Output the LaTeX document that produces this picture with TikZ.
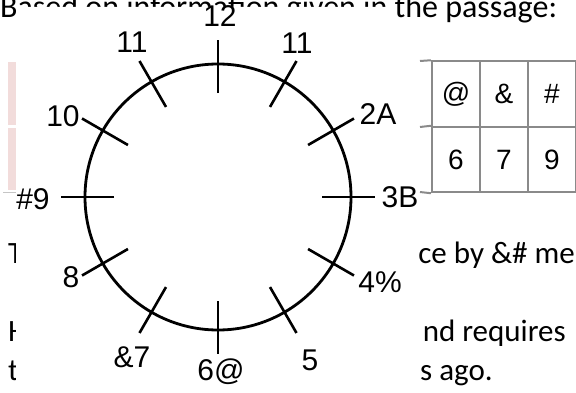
\documentclass[tikz,border=0pt]{standalone}
\usepackage{fontspec}
\setmainfont{Carlito}
\newfontfamily\clockfont{Liberation Sans}
\usetikzlibrary{calc}
\definecolor{cellgray}{RGB}{138,138,138}
\definecolor{rowpink}{RGB}{242,220,219}
\tikzset{
  hour/.style={font=\clockfont\fontsize{30}{32}\selectfont, inner sep=0pt},
  cell/.style={draw=cellgray, line width=2pt, minimum width=48pt,
    minimum height=65.5pt, inner sep=0pt, font=\clockfont\fontsize{28}{30}\selectfont},
  passage/.style={font=\fontsize{31}{36}\selectfont, inner sep=0pt}
}

\begin{document}
\begin{tikzpicture}[x=1pt,y=1pt]
\useasboundingbox (0,0) rectangle (576,392);
% page text under the clock
\node[passage, font=\fontsize{32}{36}\selectfont, anchor=base west] (head) at (0,374)
    {Based on information given in the passage:};
\begin{scope}[every node/.style={passage, anchor=base west}]
    \node (lineT) at (8,129) {T};
    \node (lineH) at (8,51) {H};
    \node (linet) at (8,12) {t};
    \node (ago) at (420,12) {s ago.};
\end{scope}
\node[passage, anchor=base east] (amp) at (575,129) {ce by \&\# me};
\node[passage, anchor=base east] (req) at (566,51) {nd requires};
\fill[rowpink] (8,330) rectangle (16,267);
\fill[rowpink] (8,264) rectangle (16,202);
\draw[cellgray!50, line width=1pt] (3,200) -- (16,200);
% table on the right
\begin{scope}[every node/.style=cell]
    \node (at) at (456,298) {@};
    \node (and) at (504,298) {\&};
    \node (hash) at (552,298) {\#};
    \node (six) at (456,232.5) {6};
    \node (seven) at (504,232.5) {7};
    \node (nine) at (552,232.5) {9};
\end{scope}
\coordinate (s1) at (420,331);
\coordinate (s2) at (420,265);
\coordinate (s3) at (420,200);
\draw[cellgray, line width=2pt] (s1) -- (at.north west);
\draw[cellgray, line width=2pt] (s2) -- (six.north west);
\draw[cellgray, line width=2pt] (s3) -- (six.south west);
% clock picture pasted on top
\fill[white] (16,0) -- (16,385) -- (390,385) -- (390,355) -- (418,355) -- (418,0) -- cycle;
\coordinate (O) at (218,195);
\draw[line width=2.8pt] (O) circle (133);
\foreach \a in {0,30,...,330}{
    \coordinate (in\a) at ($(O)+(\a:104)$);
    \coordinate (out\a) at ($(O)+(\a:157)$);
    \draw[line width=2.6pt] (in\a) -- (out\a);
}
\begin{scope}[every node/.style=hour]
    \node (h12) at (220,376) {12};
    \node (h11a) at (132,350) {11};
    \node (h11b) at (297,349) {11};
    \node (h10) at (63,276) {10};
    \node (h2) at (378,278) {2A};
    \node (h3) at (400,195) {3B};
    \node (h9) at (33,193) {\#9};
    \node (h8) at (71,115) {8};
    \node (h4) at (380,110) {4\%};
    \node (h7) at (132,35) {\&7};
    \node (h5) at (310,32) {5};
    \node (h6) at (221,20) {6@};
\end{scope}
\end{tikzpicture}
\end{document}
